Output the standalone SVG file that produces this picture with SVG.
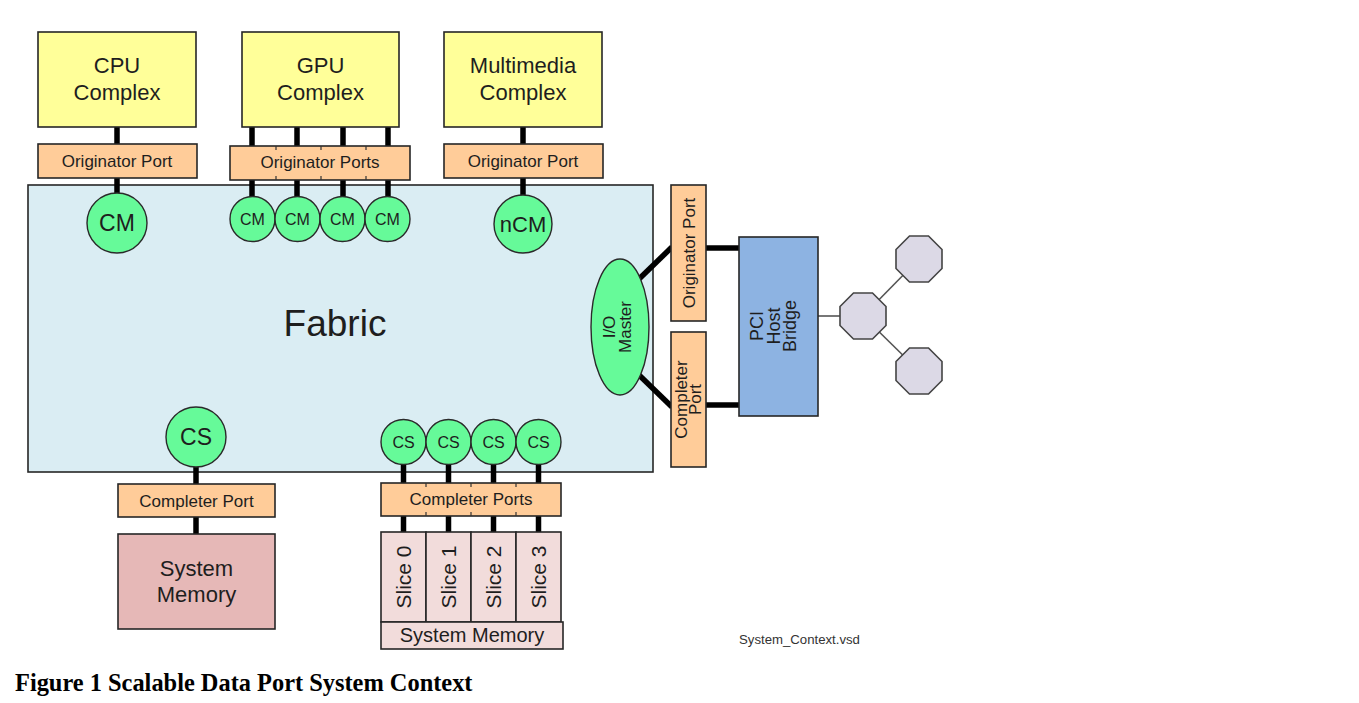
<svg xmlns="http://www.w3.org/2000/svg" width="1359" height="703" viewBox="0 0 1359 703">
<style>
text{font-family:"Liberation Sans",Arial,sans-serif;fill:#1e1e1e;text-anchor:middle}
.box{stroke:#262626;stroke-width:1.6}
.cplx{fill:#ffff99}
.port{fill:#ffcc99}
.ep{fill:#66fa99;stroke:#2a2a2a;stroke-width:1.4}
.wire{stroke:#000;stroke-width:5.5;fill:none}
.thin{stroke:#555;stroke-width:1.6;fill:none}
.tick{stroke:#333;stroke-width:1.2}
.oct{fill:#dcd9e6;stroke:#444;stroke-width:1.6}
.big{font-size:22px}
.pl{font-size:17px}
</style>
<defs>
<polygon id="octShape" points="-9.5,-23 9.5,-23 23,-9.5 23,9.5 9.5,23 -9.5,23 -23,9.5 -23,-9.5"/>
</defs>
<rect width="1359" height="703" fill="#fff"/>

<g id="fabric">
<rect class="box" x="28" y="185" width="625" height="287" fill="#daedf3"/>
<text x="335" y="336" style="font-size:37px">Fabric</text>
</g>

<g id="connectors">
<line class="wire" x1="117" y1="126" x2="117" y2="146"/>
<line class="wire" x1="117" y1="177" x2="117" y2="196"/>
<line class="wire" x1="252" y1="126" x2="252" y2="147"/>
<line class="wire" x1="297" y1="126" x2="297" y2="147"/>
<line class="wire" x1="343" y1="126" x2="343" y2="147"/>
<line class="wire" x1="388" y1="126" x2="388" y2="147"/>
<line class="wire" x1="252" y1="179" x2="252" y2="199"/>
<line class="wire" x1="297" y1="179" x2="297" y2="199"/>
<line class="wire" x1="343" y1="179" x2="343" y2="199"/>
<line class="wire" x1="388" y1="179" x2="388" y2="199"/>
<line class="wire" x1="523" y1="126" x2="523" y2="146"/>
<line class="wire" x1="523" y1="177" x2="523" y2="197"/>
<line class="wire" x1="196" y1="465" x2="196" y2="486"/>
<line class="wire" x1="196" y1="516" x2="196" y2="536"/>
<line class="wire" x1="403.5" y1="462" x2="403.5" y2="484"/>
<line class="wire" x1="448.5" y1="462" x2="448.5" y2="484"/>
<line class="wire" x1="493.5" y1="462" x2="493.5" y2="484"/>
<line class="wire" x1="538.5" y1="462" x2="538.5" y2="484"/>
<line class="wire" x1="403.5" y1="515" x2="403.5" y2="534"/>
<line class="wire" x1="448.5" y1="515" x2="448.5" y2="534"/>
<line class="wire" x1="493.5" y1="515" x2="493.5" y2="534"/>
<line class="wire" x1="538.5" y1="515" x2="538.5" y2="534"/>
<line class="wire" x1="638" y1="280" x2="672" y2="247"/>
<line class="wire" x1="705" y1="248" x2="740" y2="248"/>
<line class="wire" x1="638" y1="374" x2="672" y2="407"/>
<line class="wire" x1="705" y1="405" x2="740" y2="405"/>
<line class="thin" x1="818" y1="316" x2="845" y2="316"/>
<line class="thin" x1="863" y1="316" x2="919" y2="259"/>
<line class="thin" x1="863" y1="316" x2="919" y2="371"/>
</g>

<g id="cpu-complex">
<rect class="box cplx" x="38" y="32" width="158" height="95"/>
<text class="big" x="117" y="73">CPU</text>
<text class="big" x="117" y="100">Complex</text>
</g>
<g id="gpu-complex">
<rect class="box cplx" x="242" y="32" width="157" height="95"/>
<text class="big" x="320.5" y="73">GPU</text>
<text class="big" x="320.5" y="100">Complex</text>
</g>
<g id="multimedia-complex">
<rect class="box cplx" x="444" y="32" width="158" height="95"/>
<text class="big" x="523" y="73">Multimedia</text>
<text class="big" x="523" y="100">Complex</text>
</g>

<g id="cpu-originator-port">
<rect class="box port" x="38" y="144" width="159" height="34"/>
<text class="pl" x="117" y="167">Originator Port</text>
</g>
<g id="gpu-originator-ports">
<rect class="box port" x="230" y="146" width="180" height="34"/>
<line class="tick" x1="276" y1="146" x2="276" y2="150"/>
<line class="tick" x1="321" y1="146" x2="321" y2="150"/>
<line class="tick" x1="366" y1="146" x2="366" y2="150"/>
<line class="tick" x1="276" y1="176" x2="276" y2="180"/>
<line class="tick" x1="321" y1="176" x2="321" y2="180"/>
<line class="tick" x1="366" y1="176" x2="366" y2="180"/>
<text class="pl" x="320" y="168">Originator Ports</text>
</g>
<g id="mm-originator-port">
<rect class="box port" x="444" y="144" width="159" height="34"/>
<text class="pl" x="523" y="167">Originator Port</text>
</g>

<g id="cm-cpu">
<circle class="ep" cx="117" cy="223" r="30"/>
<text x="117" y="231" style="font-size:23px">CM</text>
</g>
<g id="cm-gpu-0">
<circle class="ep" cx="252.5" cy="219" r="22.5"/>
<text x="252.5" y="225" style="font-size:16px">CM</text>
</g>
<g id="cm-gpu-1">
<circle class="ep" cx="297.5" cy="219" r="22.5"/>
<text x="297.5" y="225" style="font-size:16px">CM</text>
</g>
<g id="cm-gpu-2">
<circle class="ep" cx="342.5" cy="219" r="22.5"/>
<text x="342.5" y="225" style="font-size:16px">CM</text>
</g>
<g id="cm-gpu-3">
<circle class="ep" cx="387.5" cy="219" r="22.5"/>
<text x="387.5" y="225" style="font-size:16px">CM</text>
</g>
<g id="ncm-mm">
<circle class="ep" cx="523" cy="224" r="29"/>
<text x="523" y="232" style="font-size:22px">nCM</text>
</g>

<g id="io-master">
<ellipse class="ep" cx="620" cy="327" rx="29" ry="68"/>
<g transform="rotate(-90 620 327)">
<text x="620" y="322" style="font-size:17px">I/O</text>
<text x="620" y="338" style="font-size:17px">Master</text>
</g>
</g>

<g id="io-originator-port">
<rect class="box port" x="671" y="185" width="35" height="136"/>
<text class="pl" x="688.5" y="253" dy="6" transform="rotate(-90 688.5 253)">Originator Port</text>
</g>
<g id="io-completer-port">
<rect class="box port" x="671" y="332" width="35" height="135"/>
<g transform="rotate(-90 688.5 399.5)">
<text class="pl" x="688.5" y="399.5" dy="-2">Completer</text>
<text class="pl" x="688.5" y="399.5" dy="12.5">Port</text>
</g>
</g>

<g id="pci-host-bridge">
<rect class="box" x="739" y="237" width="79" height="179" fill="#8db3e2"/>
<g transform="rotate(-90 778.5 326)" style="font-size:18px">
<text x="778.5" y="326" dy="-15.5">PCI</text>
<text x="778.5" y="326" dy="1">Host</text>
<text x="778.5" y="326" dy="17">Bridge</text>
</g>
</g>

<g id="pci-device-0"><use href="#octShape" class="oct" x="863" y="316"/></g>
<g id="pci-device-1"><use href="#octShape" class="oct" x="919" y="259"/></g>
<g id="pci-device-2"><use href="#octShape" class="oct" x="919" y="371"/></g>

<g id="cs-main">
<circle class="ep" cx="196" cy="437" r="30"/>
<text x="196" y="445" style="font-size:23px">CS</text>
</g>
<g id="cs-slice-0">
<circle class="ep" cx="403.5" cy="442" r="22.5"/>
<text x="403.5" y="448" style="font-size:16px">CS</text>
</g>
<g id="cs-slice-1">
<circle class="ep" cx="448.5" cy="442" r="22.5"/>
<text x="448.5" y="448" style="font-size:16px">CS</text>
</g>
<g id="cs-slice-2">
<circle class="ep" cx="493.5" cy="442" r="22.5"/>
<text x="493.5" y="448" style="font-size:16px">CS</text>
</g>
<g id="cs-slice-3">
<circle class="ep" cx="538.5" cy="442" r="22.5"/>
<text x="538.5" y="448" style="font-size:16px">CS</text>
</g>

<g id="completer-port">
<rect class="box port" x="118" y="484" width="157" height="33"/>
<text class="pl" x="196.5" y="507">Completer Port</text>
</g>
<g id="completer-ports">
<rect class="box port" x="381" y="483" width="180" height="33"/>
<line class="tick" x1="426" y1="483" x2="426" y2="487"/>
<line class="tick" x1="471" y1="483" x2="471" y2="487"/>
<line class="tick" x1="516" y1="483" x2="516" y2="487"/>
<line class="tick" x1="426" y1="512" x2="426" y2="516"/>
<line class="tick" x1="471" y1="512" x2="471" y2="516"/>
<line class="tick" x1="516" y1="512" x2="516" y2="516"/>
<text class="pl" x="471" y="505">Completer Ports</text>
</g>

<g id="system-memory">
<rect class="box" x="118" y="534" width="157" height="95" fill="#e6b8b7"/>
<text class="big" x="196.5" y="576">System</text>
<text class="big" x="196.5" y="602">Memory</text>
</g>

<g id="slice-0">
<rect class="box" x="381" y="532" width="45" height="90" fill="#f2dcdb"/>
<text x="403.5" y="577" dy="7.5" transform="rotate(-90 403.5 577)" style="font-size:21px">Slice 0</text>
</g>
<g id="slice-1">
<rect class="box" x="426" y="532" width="45" height="90" fill="#f2dcdb"/>
<text x="448.5" y="577" dy="7.5" transform="rotate(-90 448.5 577)" style="font-size:21px">Slice 1</text>
</g>
<g id="slice-2">
<rect class="box" x="471" y="532" width="45" height="90" fill="#f2dcdb"/>
<text x="493.5" y="577" dy="7.5" transform="rotate(-90 493.5 577)" style="font-size:21px">Slice 2</text>
</g>
<g id="slice-3">
<rect class="box" x="516" y="532" width="45" height="90" fill="#f2dcdb"/>
<text x="538.5" y="577" dy="7.5" transform="rotate(-90 538.5 577)" style="font-size:21px">Slice 3</text>
</g>
<g id="system-memory-sliced">
<rect class="box" x="381" y="622" width="182" height="27" fill="#f2dcdb"/>
<text x="472" y="642" style="font-size:20px">System Memory</text>
</g>

<text x="739" y="644" style="font-size:13.2px;text-anchor:start;fill:#333">System_Context.vsd</text>
<text x="15" y="691" style="font-family:'Liberation Serif','Times New Roman',serif;font-size:24.4px;font-weight:bold;text-anchor:start;fill:#000">Figure 1 Scalable Data Port System Context</text>
</svg>
